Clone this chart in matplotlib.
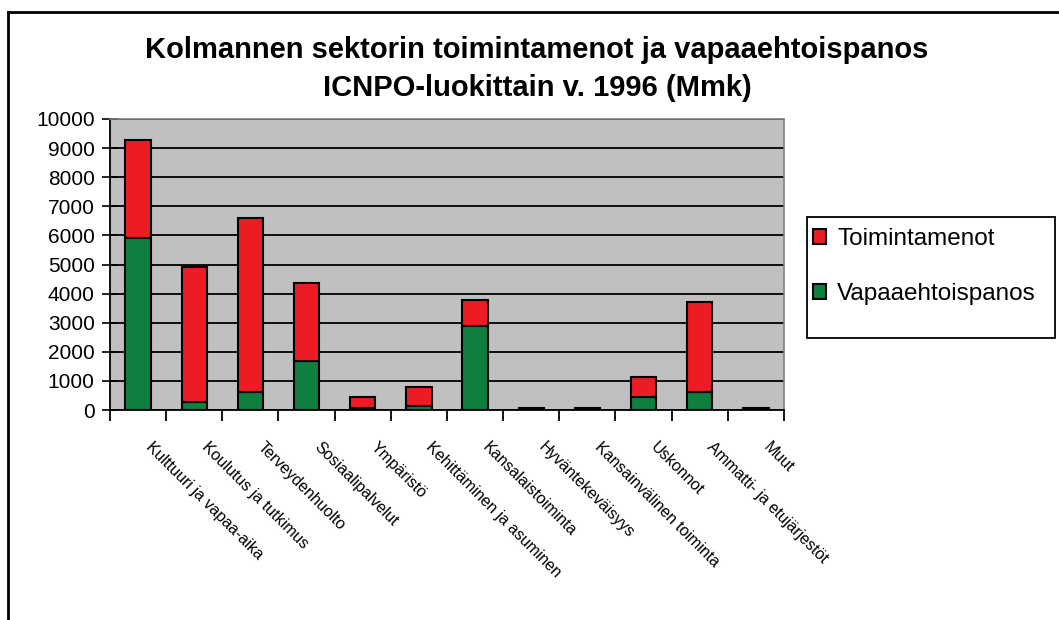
import matplotlib
matplotlib.use("Agg")
import matplotlib.pyplot as plt
from matplotlib.lines import Line2D
from matplotlib.patches import Rectangle
import numpy as np

plt.rcParams['font.family'] = ['Liberation Sans', 'DejaVu Sans']

categories = ["Kulttuuri ja vapaa-aika", "Koulutus ja tutkimus", "Terveydenhuolto",
              "Sosiaalipalvelut", "Ympäristö", "Kehittäminen ja asuminen",
              "Kansalaistoiminta", "Hyväntekeväisyys", "Kansainvälinen toiminta",
              "Uskonnot", "Ammatti- ja etujärjestöt", "Muut"]
vapaaehtoispanos = [5900, 280, 630, 1700, 60, 150, 2890, 20, 20, 435, 630, 20]
toimintamenot = [3370, 4650, 5960, 2660, 375, 630, 890, 50, 50, 685, 3070, 50]
yticks = list(range(0, 10001, 1000))

W, H = 1059, 620
fig = plt.figure(figsize=(W / 100, H / 100), dpi=100)
fig.patch.set_facecolor('white')

# outer chart border (left and top visible)
fig.add_artist(Line2D([8 / W, 8 / W], [0, 1 - 11.5 / H], transform=fig.transFigure,
                      color='black', linewidth=2))
fig.add_artist(Line2D([8 / W, 1], [1 - 11.5 / H, 1 - 11.5 / H], transform=fig.transFigure,
                      color='black', linewidth=2))

ax = fig.add_axes([110 / W, 1 - 410 / H, (784 - 110) / W, (410 - 119) / H])
ax.set_facecolor('#C0C0C0')

x = np.arange(len(categories))
red = '#ED1C24'
green = '#0F7F3F'
b1 = ax.bar(x, vapaaehtoispanos, width=0.45, color=green, edgecolor='black',
            linewidth=1.5, label='Vapaaehtoispanos', zorder=3)
b2 = ax.bar(x, toimintamenot, bottom=vapaaehtoispanos, width=0.45, color=red,
            edgecolor='black', linewidth=1.5, label='Toimintamenot', zorder=3)

ax.set_xlim(-0.5, len(categories) - 0.5)
ax.set_ylim(0, 10000)
ax.set_yticks(yticks)
ax.set_yticklabels([str(v) for v in yticks], fontsize=15)
ax.yaxis.grid(True, color='black', linewidth=1.3, zorder=1)
ax.set_axisbelow(True)
ax.tick_params(axis='y', direction='inout', length=12, width=1.2, pad=5)

ax.set_xticks(x)
ax.set_xticklabels([])
ax.tick_params(axis='x', which='major', length=0)
ax.set_xticks(np.arange(-0.5, len(categories), 1.0), minor=True)
ax.tick_params(axis='x', which='minor', direction='out', length=8, width=1.3)

for sp in ['left', 'bottom']:
    ax.spines[sp].set_color('black')
    ax.spines[sp].set_linewidth(1.3)
for sp in ['top', 'right']:
    ax.spines[sp].set_color('#808080')
    ax.spines[sp].set_linewidth(1.2)

for xi, lab in zip(x, categories):
    ax.annotate(lab, xy=(xi, 0), xycoords=('data', 'axes fraction'),
                xytext=(7, -25), textcoords='offset points',
                rotation=-45, rotation_mode='anchor', ha='left', va='center',
                fontsize=11.5)

fig.text(537 / W, 1 - 50 / H, "Kolmannen sektorin toimintamenot ja vapaaehtoispanos",
         ha='center', va='center', fontsize=21, fontweight='bold')
fig.text(537 / W, 1 - 88 / H, "ICNPO-luokittain v. 1996 (Mmk)",
         ha='center', va='center', fontsize=21, fontweight='bold')

# legend frame drawn separately
fig.add_artist(Rectangle((807 / W, 1 - 338 / H), (1055 - 807) / W, (338 - 217) / H,
                         transform=fig.transFigure, fill=False,
                         edgecolor='black', linewidth=1.3))
leg = fig.legend(handles=[b2, b1], labels=['Toimintamenot', 'Vapaaehtoispanos'],
                 loc='upper left', bbox_to_anchor=(807 / W, 1 - 222 / H),
                 fontsize=17.5, frameon=False,
                 handlelength=0.55, handleheight=0.55, handletextpad=0.45,
                 labelspacing=1.35, borderpad=0.25, borderaxespad=0)

fig.savefig('out.png', dpi=100, facecolor='white')
